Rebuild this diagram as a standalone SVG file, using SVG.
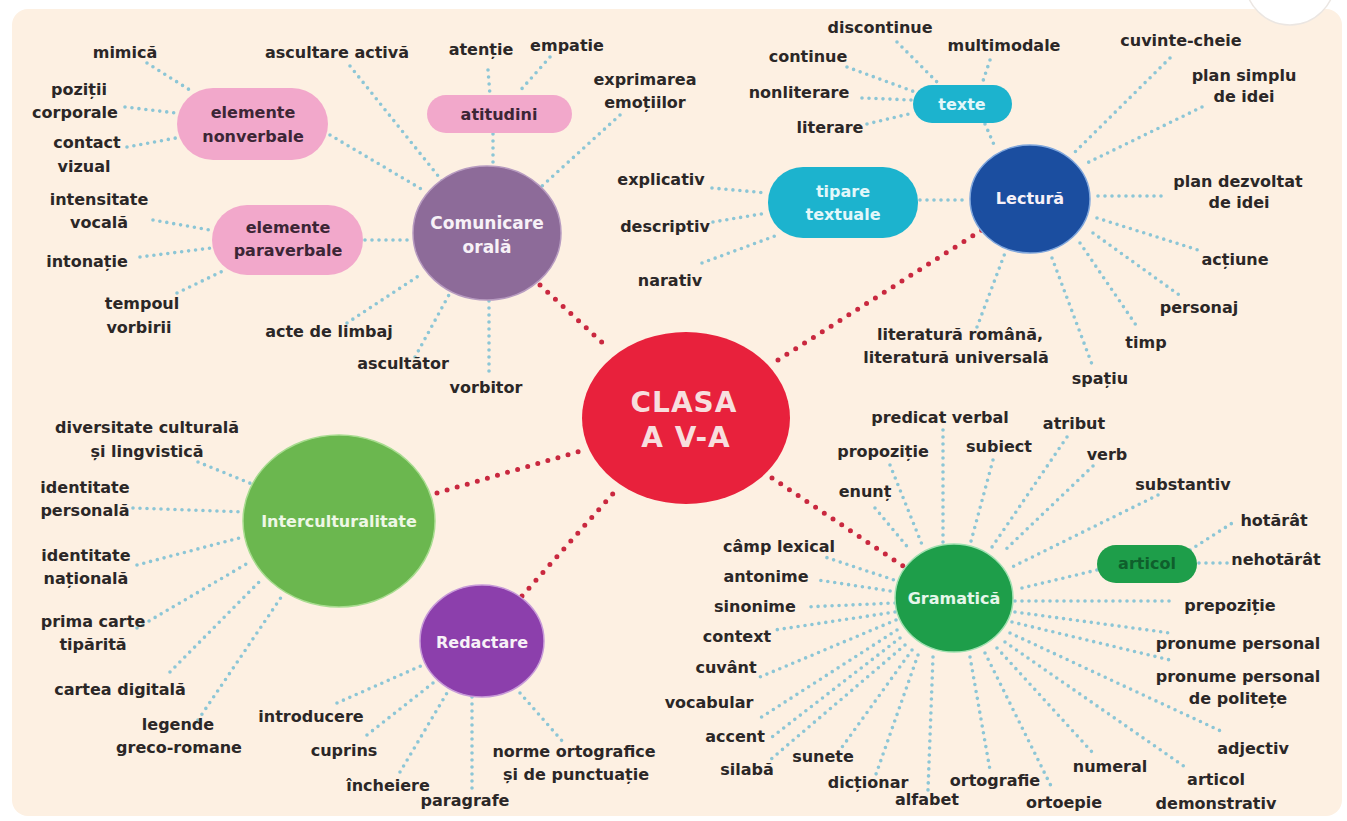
<svg xmlns="http://www.w3.org/2000/svg" width="1347" height="821" viewBox="0 0 1347 821">
<style>
text{font-family:"DejaVu Sans","Liberation Sans",sans-serif;font-weight:bold;font-size:16px;text-anchor:middle}
.t{fill:#2b2727}
.w{fill:#f7f1f7}
.dk{fill:#3c2636}
.dot{fill:none;stroke:#8cc6d6;stroke-width:3.6;stroke-linecap:round;stroke-dasharray:0 7}
.red{fill:none;stroke:#c9283f;stroke-width:5;stroke-linecap:round;stroke-dasharray:0 10.5}
</style>
<rect x="0" y="0" width="1347" height="821" fill="#ffffff"/>
<rect x="12" y="9" width="1330" height="807" rx="16" fill="#fdf0e2"/>
<circle cx="1290" cy="-20" r="45" fill="#ffffff" stroke="#ebe6e2" stroke-width="1.5"/>

<g id="connectors">
<g class="red">
<line x1="540" y1="285" x2="607" y2="347"/>
<line x1="778" y1="360" x2="982" y2="230"/>
<line x1="437" y1="493" x2="584" y2="450"/>
<line x1="522" y1="596" x2="618" y2="488"/>
<line x1="772" y1="478" x2="903" y2="566"/>
</g>
<g class="dot">
<line x1="330" y1="135" x2="423" y2="190"/>
<line x1="365" y1="240" x2="413" y2="240"/>
<line x1="350" y1="66" x2="443" y2="182"/>
<line x1="493" y1="134" x2="493" y2="167"/>
<line x1="620" y1="115" x2="542" y2="186"/>
<line x1="347" y1="323" x2="420" y2="275"/>
<line x1="415" y1="357" x2="450" y2="293"/>
<line x1="489" y1="301" x2="489" y2="372"/>
<line x1="488" y1="70" x2="490" y2="95"/>
<line x1="550" y1="57" x2="518" y2="93"/>
<line x1="147" y1="63" x2="193" y2="92"/>
<line x1="125" y1="107" x2="176" y2="113"/>
<line x1="127" y1="147" x2="176" y2="138"/>
<line x1="153" y1="220" x2="210" y2="230"/>
<line x1="140" y1="257" x2="211" y2="248"/>
<line x1="177" y1="293" x2="225" y2="270"/>

<line x1="897" y1="42" x2="937" y2="82"/>
<line x1="847" y1="67" x2="915" y2="92"/>
<line x1="990" y1="60" x2="982" y2="84"/>
<line x1="862" y1="98" x2="912" y2="100"/>
<line x1="867" y1="124" x2="913" y2="113"/>
<line x1="985" y1="124" x2="995" y2="147"/>
<line x1="920" y1="200" x2="968" y2="200"/>
<line x1="712" y1="188" x2="767" y2="193"/>
<line x1="713" y1="222" x2="767" y2="213"/>
<line x1="702" y1="263" x2="775" y2="236"/>
<line x1="1170" y1="58" x2="1075" y2="152"/>
<line x1="1202" y1="107" x2="1087" y2="163"/>
<line x1="1098" y1="196" x2="1167" y2="196"/>
<line x1="1097" y1="218" x2="1198" y2="250"/>
<line x1="1093" y1="233" x2="1182" y2="297"/>
<line x1="1080" y1="243" x2="1138" y2="328"/>
<line x1="1052" y1="258" x2="1093" y2="367"/>
<line x1="977" y1="327" x2="1005" y2="253"/>

<line x1="198" y1="462" x2="252" y2="484"/>
<line x1="133" y1="508" x2="243" y2="512"/>
<line x1="137" y1="565" x2="243" y2="537"/>
<line x1="137" y1="628" x2="248" y2="563"/>
<line x1="170" y1="672" x2="263" y2="578"/>
<line x1="198" y1="720" x2="282" y2="596"/>

<line x1="337" y1="703" x2="423" y2="665"/>
<line x1="367" y1="735" x2="433" y2="683"/>
<line x1="400" y1="772" x2="447" y2="693"/>
<line x1="472" y1="697" x2="472" y2="790"/>
<line x1="520" y1="693" x2="563" y2="742"/>

<line x1="943" y1="430" x2="943" y2="544"/>
<line x1="890" y1="465" x2="923" y2="547"/>
<line x1="875" y1="508" x2="910" y2="550"/>
<line x1="993" y1="460" x2="970" y2="545"/>
<line x1="1067" y1="437" x2="990" y2="550"/>
<line x1="1093" y1="466" x2="1003" y2="552"/>
<line x1="1158" y1="495" x2="1010" y2="568"/>
<line x1="1022" y1="588" x2="1097" y2="570"/>
<line x1="1190" y1="550" x2="1237" y2="520"/>
<line x1="1199" y1="563" x2="1228" y2="563"/>
<line x1="1015" y1="601" x2="1175" y2="601"/>
<line x1="1015" y1="612" x2="1170" y2="633"/>
<line x1="1012" y1="622" x2="1170" y2="660"/>
<line x1="1010" y1="633" x2="1225" y2="733"/>
<line x1="1005" y1="642" x2="1185" y2="767"/>
<line x1="997" y1="648" x2="1092" y2="752"/>
<line x1="985" y1="653" x2="1053" y2="790"/>
<line x1="970" y1="657" x2="990" y2="770"/>
<line x1="933" y1="657" x2="928" y2="790"/>
<line x1="918" y1="655" x2="875" y2="777"/>
<line x1="912" y1="650" x2="840" y2="750"/>
<line x1="905" y1="645" x2="770" y2="760"/>
<line x1="900" y1="638" x2="772" y2="737"/>
<line x1="897" y1="630" x2="757" y2="720"/>
<line x1="896" y1="620" x2="760" y2="677"/>
<line x1="895" y1="612" x2="775" y2="630"/>
<line x1="895" y1="603" x2="805" y2="607"/>
<line x1="897" y1="592" x2="818" y2="580"/>
<line x1="900" y1="582" x2="825" y2="557"/>
</g>
</g>

<g id="clasa">
<ellipse cx="686" cy="418" rx="104" ry="86" fill="#e8213c"/>
<text x="684" y="412" class="w" style="font-size:28px;fill:#f7dede;letter-spacing:1px">CLASA</text>
<text x="686" y="447" class="w" style="font-size:28px;fill:#f7dede;letter-spacing:1px">A V-A</text>
</g>

<g id="comunicare">
<ellipse cx="487" cy="233" rx="74" ry="67" fill="#8d6b99" stroke="#b79bc0" stroke-width="1.5"/>
<text x="487" y="229" class="w" style="font-size:17px">Comunicare</text>
<text x="487" y="253" class="w" style="font-size:17px">orală</text>
</g>
<g id="nonverbale">
<rect x="177" y="88" width="151" height="72" rx="36" fill="#f2a8cb"/>
<text x="253" y="118" class="dk">elemente</text>
<text x="253" y="142" class="dk">nonverbale</text>
</g>
<g id="paraverbale">
<rect x="212" y="205" width="151" height="70" rx="35" fill="#f2a8cb"/>
<text x="288" y="233" class="dk">elemente</text>
<text x="288" y="256" class="dk">paraverbale</text>
</g>
<g id="atitudini">
<rect x="427" y="95" width="145" height="38" rx="19" fill="#f2a8cb"/>
<text x="499" y="120" class="dk">atitudini</text>
</g>
<g id="comunicare-leaves">
<text x="125" y="58" class="t">mimică</text>
<text x="79" y="95" class="t">poziții</text>
<text x="75" y="118" class="t">corporale</text>
<text x="87" y="148" class="t">contact</text>
<text x="84" y="172" class="t">vizual</text>
<text x="99" y="205" class="t">intensitate</text>
<text x="99" y="228" class="t">vocală</text>
<text x="87" y="267" class="t">intonație</text>
<text x="142" y="309" class="t">tempoul</text>
<text x="139" y="333" class="t">vorbirii</text>
<text x="329" y="337" class="t">acte de limbaj</text>
<text x="403" y="369" class="t">ascultător</text>
<text x="486" y="393" class="t">vorbitor</text>
<text x="337" y="58" class="t">ascultare activă</text>
<text x="481" y="55" class="t">atenție</text>
<text x="567" y="51" class="t">empatie</text>
<text x="645" y="85" class="t">exprimarea</text>
<text x="645" y="108" class="t">emoțiilor</text>
</g>

<g id="lectura">
<ellipse cx="1030" cy="199" rx="60" ry="54" fill="#1b4ea0" stroke="#7fa6dc" stroke-width="1.5"/>
<text x="1030" y="204" class="w">Lectură</text>
</g>
<g id="texte">
<rect x="913" y="85" width="99" height="38" rx="19" fill="#1cb3ce"/>
<text x="962" y="110" style="fill:#e3f7fa">texte</text>
</g>
<g id="tipare">
<rect x="768" y="167" width="150" height="71" rx="35" fill="#1cb3ce"/>
<text x="843" y="197" style="fill:#e3f7fa">tipare</text>
<text x="843" y="220" style="fill:#e3f7fa">textuale</text>
</g>
<g id="lectura-leaves">
<text x="880" y="33" class="t">discontinue</text>
<text x="808" y="62" class="t">continue</text>
<text x="799" y="98" class="t">nonliterare</text>
<text x="830" y="133" class="t">literare</text>
<text x="1004" y="51" class="t">multimodale</text>
<text x="661" y="185" class="t">explicativ</text>
<text x="665" y="232" class="t">descriptiv</text>
<text x="670" y="286" class="t">narativ</text>
<text x="1181" y="46" class="t">cuvinte-cheie</text>
<text x="1244" y="81" class="t">plan simplu</text>
<text x="1244" y="102" class="t">de idei</text>
<text x="1238" y="187" class="t">plan dezvoltat</text>
<text x="1239" y="208" class="t">de idei</text>
<text x="1235" y="265" class="t">acțiune</text>
<text x="1199" y="313" class="t">personaj</text>
<text x="1146" y="348" class="t">timp</text>
<text x="1100" y="384" class="t">spațiu</text>
<text x="960" y="340" class="t">literatură română,</text>
<text x="956" y="363" class="t">literatură universală</text>
</g>

<g id="interculturalitate">
<ellipse cx="339" cy="521" rx="96" ry="86" fill="#6bb74f" stroke="#a8dc90" stroke-width="1.5"/>
<text x="339" y="527" class="w" style="fill:#eef7e6">Interculturalitate</text>
</g>
<g id="interculturalitate-leaves">
<text x="147" y="433" class="t">diversitate culturală</text>
<text x="147" y="457" class="t">și lingvistică</text>
<text x="85" y="493" class="t">identitate</text>
<text x="85" y="516" class="t">personală</text>
<text x="86" y="561" class="t">identitate</text>
<text x="86" y="584" class="t">națională</text>
<text x="93" y="627" class="t">prima carte</text>
<text x="93" y="650" class="t">tipărită</text>
<text x="120" y="695" class="t">cartea digitală</text>
<text x="178" y="730" class="t">legende</text>
<text x="179" y="753" class="t">greco-romane</text>
</g>

<g id="redactare">
<ellipse cx="482" cy="641" rx="62" ry="56" fill="#8c3fac" stroke="#c79ad8" stroke-width="1.5"/>
<text x="482" y="648" class="w">Redactare</text>
</g>
<g id="redactare-leaves">
<text x="311" y="722" class="t">introducere</text>
<text x="344" y="756" class="t">cuprins</text>
<text x="388" y="791" class="t">încheiere</text>
<text x="465" y="806" class="t">paragrafe</text>
<text x="574" y="757" class="t">norme ortografice</text>
<text x="576" y="780" class="t">și de punctuație</text>
</g>

<g id="gramatica">
<ellipse cx="954" cy="598" rx="59" ry="54" fill="#1e9e4a" stroke="#9fe0b0" stroke-width="1.5"/>
<text x="954" y="604" class="w" style="fill:#e6f6ea">Gramatică</text>
</g>
<g id="articol">
<rect x="1097" y="545" width="100" height="38" rx="19" fill="#1e9e4a"/>
<text x="1147" y="569" style="fill:#0f5f2c">articol</text>
</g>
<g id="gramatica-leaves">
<text x="940" y="423" class="t">predicat verbal</text>
<text x="883" y="457" class="t">propoziție</text>
<text x="865" y="497" class="t">enunț</text>
<text x="999" y="452" class="t">subiect</text>
<text x="1074" y="429" class="t">atribut</text>
<text x="1107" y="460" class="t">verb</text>
<text x="1183" y="490" class="t">substantiv</text>
<text x="1274" y="526" class="t">hotărât</text>
<text x="1276" y="565" class="t">nehotărât</text>
<text x="1230" y="611" class="t">prepoziție</text>
<text x="1238" y="649" class="t">pronume personal</text>
<text x="1238" y="682" class="t">pronume personal</text>
<text x="1238" y="704" class="t">de politețe</text>
<text x="1253" y="754" class="t">adjectiv</text>
<text x="1216" y="785" class="t">articol</text>
<text x="1216" y="809" class="t">demonstrativ</text>
<text x="1110" y="772" class="t">numeral</text>
<text x="1064" y="808" class="t">ortoepie</text>
<text x="995" y="786" class="t">ortografie</text>
<text x="927" y="805" class="t">alfabet</text>
<text x="868" y="788" class="t">dicționar</text>
<text x="823" y="762" class="t">sunete</text>
<text x="747" y="775" class="t">silabă</text>
<text x="735" y="742" class="t">accent</text>
<text x="709" y="708" class="t">vocabular</text>
<text x="726" y="673" class="t">cuvânt</text>
<text x="737" y="642" class="t">context</text>
<text x="755" y="612" class="t">sinonime</text>
<text x="766" y="582" class="t">antonime</text>
<text x="779" y="552" class="t">câmp lexical</text>
</g>
</svg>
